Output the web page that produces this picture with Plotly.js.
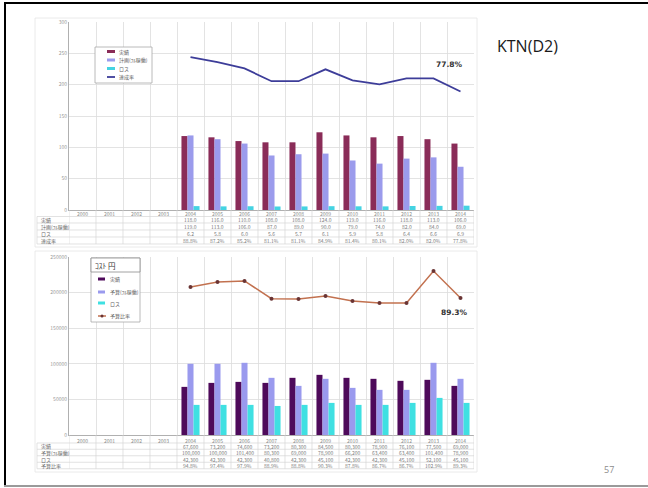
<!DOCTYPE html>
<html><head><meta charset="utf-8">
<script src="https://cdn.plot.ly/plotly-3.0.1.min.js"></script>
<style>
html,body{margin:0;padding:0;background:#fff;}
#chart{position:absolute;left:0;top:0;width:648px;height:488px;}
.ln{position:absolute;}
</style></head><body>
<div id="chart"></div>
<div class="ln" style="left:4px;top:2px;width:644px;height:2px;background:#000;"></div>
<div class="ln" style="left:4px;top:2px;width:2px;height:484px;background:#000;"></div>
<div class="ln" style="left:4px;top:485px;width:644px;height:2px;background:#9a9a9a;"></div>
<script>
// ---- data ----
const categories = ['2000','2001','2002','2003','2004','2005','2006','2007','2008','2009','2010','2011','2012','2013','2014'];
const dataCats = categories.slice(4);

const topNames = ['実績', '計画(ﾌﾙ稼働)', 'ロス', '達成率'];
const topA = [118, 116, 110, 108, 108, 124, 119, 116, 118, 113, 106];
const topB = [119, 113, 106, 87, 89, 90, 79, 74, 82, 84, 69];
const topC = [6.2, 5.8, 6.0, 5.6, 5.7, 6.1, 5.9, 5.8, 6.4, 6.6, 6.9];
const topRate = [88.8, 87.2, 85.2, 81.1, 81.1, 84.9, 81.4, 80.1, 82.0, 82.0, 77.8];

const botTitle = 'ｺｽﾄ 円';
const botNames = ['実績', '予算(ﾌﾙ稼働)', 'ロス', '予算比率'];
const botA = [67600, 73200, 74600, 73200, 80300, 84500, 80300, 78900, 76100, 77500, 69000];
const botB = [100000, 100000, 101400, 80300, 69000, 78900, 66200, 63400, 63400, 101400, 78900];
const botC = [42300, 42300, 42300, 40800, 42300, 45100, 42300, 42300, 45100, 52100, 45100];
const botRate = [94.8, 97.4, 97.9, 88.9, 88.8, 90.3, 87.8, 86.7, 86.7, 102.9, 89.3];

const slideTitle = 'KTN(D2)';
const pageNo = '57';

// ---- styles ----
const topColors = ['#8a2c58', '#9b9bec', '#45d3e2', '#3d3d99'];
const botColors = ['#4e0a5a', '#9a9aee', '#3fe0e2', '#c2714f'];
const W = 648, H = 488;
const px = v => v / W, py = v => 1 - v / H;
const JP = 'Noto Sans CJK JP, Noto Sans, sans-serif';
const X0 = 69, X1 = 474;
const firstData = categories.indexOf(dataCats[0]);

const traces = [];
function bars(xa, ya, vals, color, name){
  traces.push({type:'bar', x:dataCats, y:vals, name:name, xaxis:xa, yaxis:ya,
    marker:{color:color, line:{width:0}}, showlegend:false, hoverinfo:'skip'});
}
bars('x','y',topA,topColors[0],topNames[0]);
bars('x','y',topB,topColors[1],topNames[1]);
bars('x','y',topC,topColors[2],topNames[2]);
traces.push({type:'scatter', mode:'lines', x:dataCats, y:topRate, xaxis:'x', yaxis:'y2',
  line:{color:topColors[3], width:1.8}, showlegend:false, name:topNames[3]});
bars('x2','y3',botA,botColors[0],botNames[0]);
bars('x2','y3',botB,botColors[1],botNames[1]);
bars('x2','y3',botC,botColors[2],botNames[2]);
traces.push({type:'scatter', mode:'lines+markers', x:dataCats, y:botRate, xaxis:'x2', yaxis:'y4',
  line:{color:botColors[3], width:1.5}, marker:{color:'#6a3434', size:4}, showlegend:false, name:botNames[3]});

const shapes = [], annotations = [];
function hline(x0,x1,y,color,w){shapes.push({type:'line',xref:'paper',yref:'paper',x0:px(x0),x1:px(x1),y0:py(y),y1:py(y),line:{color:color,width:w||0.8}});}
function rect(x0,y0,x1,y1,line,fill,w){shapes.push({type:'rect',xref:'paper',yref:'paper',x0:px(x0),x1:px(x1),y0:py(y0),y1:py(y1),line:{color:line,width:w===undefined?0.8:w},fillcolor:fill||'rgba(0,0,0,0)'});}
function txt(x,y,t,size,color,anchor,extra){annotations.push(Object.assign({xref:'paper',yref:'paper',x:px(x),y:py(y),text:t,showarrow:false,xanchor:anchor||'left',yanchor:'middle',font:{size:size,color:color,family:JP}},extra||{}));}

// chart image frames
rect(35,18,477,247,'#e4e4e4');
rect(35,251,477,472,'#e4e4e4');

// data tables
function table(xa, axisY, catY, rowYs, names, series, fmts){
  const bounds = rowYs.map((y,i)=> i===0 ? (catY+y)/2 : (rowYs[i-1]+y)/2);
  const step = rowYs[1]-rowYs[0];
  bounds.push(rowYs[rowYs.length-1]+step/2);
  bounds.forEach(b => hline(37, X1, b, '#d6d6d6', 0.7));
  const bottom = bounds[bounds.length-1];
  for(let i=0;i<=categories.length;i++){
    shapes.push({type:'line', xref:xa, yref:'paper', x0:i-0.5, x1:i-0.5, y0:py(axisY), y1:py(bottom), line:{color:'#d6d6d6', width:0.7}});
  }
  shapes.push({type:'line', xref:'paper', yref:'paper', x0:px(37), x1:px(37), y0:py(bounds[0]), y1:py(bottom), line:{color:'#d6d6d6', width:0.7}});
  categories.forEach((c,i) => annotations.push({xref:xa, yref:'paper', x:i, y:py(catY), text:c, showarrow:false, xanchor:'center', yanchor:'middle', font:{size:5,color:'#8a8a8a',family:JP}}));
  names.forEach((n,r) => {
    txt(39, rowYs[r], n, 5, '#666', 'left');
    series[r].forEach((v,j) => annotations.push({xref:xa, yref:'paper', x:firstData+j, y:py(rowYs[r]), text:fmts[r](v), showarrow:false, xanchor:'center', yanchor:'middle', font:{size:5,color:'#7a7a7a',family:JP}}));
  });
}
const f1 = v => v.toFixed(1), fp = v => v.toFixed(1)+'%', fc = v => v.toLocaleString('en-US');
table('x', 210, 213.5, [219.5,226.5,233.5,240.5], topNames, [topA,topB,topC,topRate], [f1,f1,f1,fp]);
table('x2', 435, 440, [446,452.5,459,465.5], botNames, [botA,botB,botC,botRate], [fc,fc,fc,fp]);

// legends
rect(95,47,152,83,'#a8a8a8','#ffffff');
[51.5,60,68.5,77].forEach((y,i)=>{
  if(i<3) rect(107,y-1.5,115,y+1.5,topColors[i],topColors[i],0);
  else hline(107,115,y,topColors[3],1.8);
  txt(117,y,topNames[i],5,'#5a5a5a','left');
});
rect(91,258,140,322,'#a8a8a8','#ffffff');
rect(91,258,140,272,'#8a8a8a','#ffffff');
txt(93,265,botTitle,7.5,'#333','left');
[279,292,303,316].forEach((y,i)=>{
  if(i<3) rect(98,y-1.5,105,y+1.5,botColors[i],botColors[i],0);
  else { hline(98,106,y,botColors[3],1.5); shapes.push({type:'circle',xref:'paper',yref:'paper',x0:px(100.5),x1:px(103.5),y0:py(y+1.5),y1:py(y-1.5),fillcolor:'#6a3434',line:{width:0}}); }
  txt(108,y,botNames[i],5,'#5a5a5a','left');
});

// rate labels
const lastIdx = firstData + dataCats.length - 1;
annotations.push({xref:'x', yref:'y2', x:lastIdx, y:topRate[topRate.length-1], xshift:-11, yshift:27,
  text:'<b>'+fp(topRate[topRate.length-1])+'</b>', showarrow:false, font:{size:7.5,color:'#333',family:'DejaVu Sans'}});
annotations.push({xref:'x2', yref:'y4', x:lastIdx, y:botRate[botRate.length-1], xshift:-6, yshift:-15,
  text:'<b>'+fp(botRate[botRate.length-1])+'</b>', showarrow:false, font:{size:7.5,color:'#333',family:'DejaVu Sans'}});

// slide texts
txt(495,46,slideTitle,16,'#1a1a1a','left',{font:{size:16,color:'#1a1a1a',family:'Open Sans, Noto Sans, sans-serif'}});
txt(609,469,pageNo,9,'#8c8c8c','center',{font:{size:9,color:'#8c8c8c',family:'Open Sans, Noto Sans, sans-serif'}});

const xcommon = {type:'category', categoryorder:'array', categoryarray:categories, range:[-0.5,14.5],
  domain:[px(X0),px(X1)], tickson:'boundaries', showgrid:true, gridcolor:'#dcdcdc', gridwidth:0.8,
  showticklabels:false, ticks:'', showline:true, linecolor:'#b0b0b0', linewidth:1, zeroline:false, fixedrange:true};
const ycommon = {showgrid:true, gridcolor:'#dcdcdc', gridwidth:0.8, showline:true, linecolor:'#b0b0b0', linewidth:1,
  zeroline:false, ticks:'', tickfont:{size:5,color:'#999',family:JP}, fixedrange:true};

const layout = {
  width:W, height:H, margin:{l:0,r:0,t:0,b:0}, paper_bgcolor:'rgba(255,255,255,0)', plot_bgcolor:'rgba(255,255,255,0)',
  barmode:'group', bargap:0.33, bargroupgap:0, showlegend:false,
  xaxis:Object.assign({}, xcommon, {anchor:'y'}),
  yaxis:Object.assign({}, ycommon, {domain:[py(210),py(22)], range:[0,300], dtick:50, anchor:'x'}),
  yaxis2:{overlaying:'y', range:[40,100], visible:false, fixedrange:true},
  xaxis2:Object.assign({}, xcommon, {anchor:'y3'}),
  yaxis3:Object.assign({}, ycommon, {domain:[py(435),py(257)], range:[0,250000], dtick:50000, tickformat:'d', anchor:'x2'}),
  yaxis4:{overlaying:'y3', range:[20,110], visible:false, fixedrange:true},
  shapes:shapes, annotations:annotations
};
Plotly.newPlot('chart', traces, layout, {staticPlot:true, displayModeBar:false});
</script>
</body></html>
